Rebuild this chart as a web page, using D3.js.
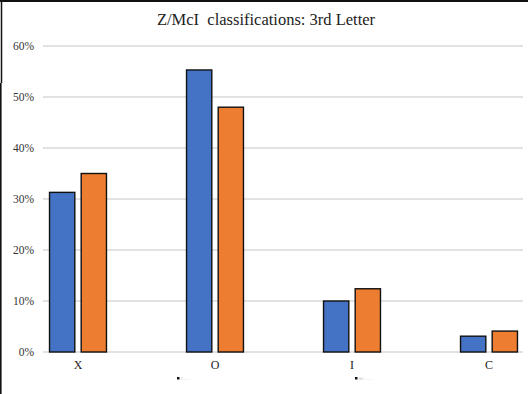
<!DOCTYPE html>
<html><head><meta charset="utf-8">
<script src="https://cdn.jsdelivr.net/npm/d3@7"></script>
<style>html,body{margin:0;padding:0;background:#fff;}svg{display:block;}
.serif{font-family:"Liberation Serif","Times New Roman",Times,"DejaVu Serif",serif;}
</style>
</head><body>
<script>
const categories = ["X", "O", "I", "C"];
const seriesNames = ["Z", "McI"];
const seriesA = [0.313, 0.553, 0.100, 0.031];
const seriesB = [0.350, 0.480, 0.124, 0.041];
const tickValues = [0, 0.1, 0.2, 0.3, 0.4, 0.5, 0.6];
const colors = ["#4472C4", "#ED7D31"];
const title = "Z/McI  classifications: 3rd Letter";

const W = 528, H = 394;
const svg = d3.select("body").append("svg").attr("width", W).attr("height", H);

const y = d3.scaleLinear().domain([0, 0.6]).range([352, 46]);
const x = d3.scaleBand().domain(categories).range([9.5, 557.5]).paddingInner(0.577).paddingOuter(0.2885);
const x1 = d3.scaleBand().domain(seriesNames).range([0, x.bandwidth()]).paddingInner(0.17);

// title
svg.append("text").attr("class", "serif").attr("x", 266).attr("y", 25).attr("text-anchor", "middle")
  .attr("font-family", "Liberation Serif")
  .style("font-size", "16.5px").attr("fill", "#222")
  .style("white-space", "pre").text(title);

// gridlines
const yAxis = d3.axisLeft(y).tickValues(tickValues).tickFormat(d3.format(".0%")).tickSize(0).tickPadding(0);
svg.append("g").selectAll("line").data(tickValues).join("line")
  .attr("x1", 43).attr("x2", 523).attr("y1", d => y(d)).attr("y2", d => y(d))
  .attr("stroke", "#d9d9d9").attr("stroke-width", 1.3);

const ga = svg.append("g").attr("transform", "translate(34,0)").call(yAxis)
  .attr("font-family", null).attr("class", "serif");
ga.select(".domain").remove();
ga.selectAll("text").attr("class", "serif").style("font-size", "11.5px").attr("fill", "#333");

// bars
const data = categories.map((c, i) => ({c, vals: [seriesA[i], seriesB[i]]}));
const groups = svg.append("g").selectAll("g").data(data).join("g")
  .attr("transform", d => `translate(${x(d.c)},0)`);
groups.selectAll("rect").data(d => d.vals.map((v, j) => ({v, s: seriesNames[j], j}))).join("rect")
  .attr("x", d => x1(d.s) + 0.5).attr("width", x1.bandwidth() - 1)
  .attr("y", d => y(d.v)).attr("height", d => y(0) - y(d.v))
  .attr("fill", d => colors[d.j]).attr("stroke", "#111").attr("stroke-width", 1.4);

// category axis labels
const xa = svg.append("g").attr("transform", "translate(0,352)")
  .call(d3.axisBottom(x).tickSize(0).tickPadding(8))
  .attr("font-family", null).attr("class", "serif");
xa.select(".domain").remove();
xa.selectAll("text").attr("class", "serif").style("font-size", "12px").attr("fill", "#222");

// tiny legend
const legendX = [177, 355];
seriesNames.forEach((s, i) => {
  const g = svg.append("g").attr("transform", `translate(${legendX[i]},378)`);
  g.append("rect").attr("x", 0).attr("y", -1).attr("width", 2.5).attr("height", 2.5).attr("fill", "#111");
  g.append("text").attr("x", 4).attr("y", 1.5).style("font-size", "3px").attr("fill", "#bbb")
    .style("font-family", "'Liberation Sans', sans-serif").text(s + " ........");
});

// borders
svg.append("line").attr("x1", 0).attr("x2", W).attr("y1", 1).attr("y2", 1).attr("stroke", "#111").attr("stroke-width", 2);
svg.append("line").attr("x1", 1.5).attr("x2", 1.5).attr("y1", 0).attr("y2", 83).attr("stroke", "#111").attr("stroke-width", 1.5);
svg.append("line").attr("x1", 0.8).attr("x2", 0.8).attr("y1", 83).attr("y2", H).attr("stroke", "#111").attr("stroke-width", 1.6);
</script>
</body></html>
